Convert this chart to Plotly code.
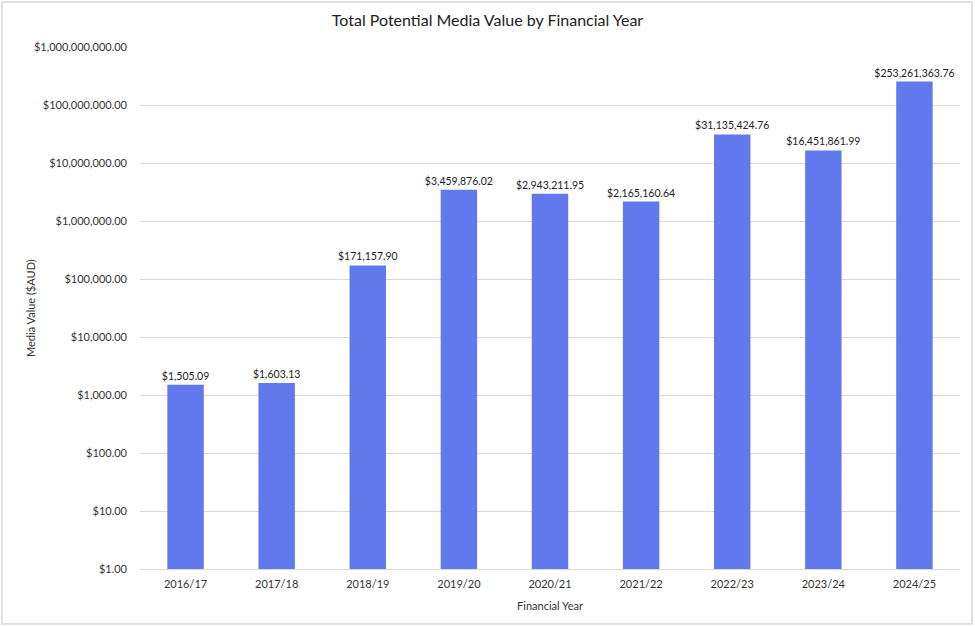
import plotly.graph_objects as go

years = ["2016/17", "2017/18", "2018/19", "2019/20", "2020/21", "2021/22", "2022/23", "2023/24", "2024/25"]
values = [1505.09, 1603.13, 171157.90, 3459876.02, 2943211.95, 2165160.64, 31135424.76, 16451861.99, 253261363.76]
tick_vals = [1, 10, 100, 1000, 10000, 100000, 1000000, 10000000, 100000000, 1000000000]
tick_text = ["$" + f"{v:,.2f}" for v in tick_vals]

FONT = "Lato, Noto Sans, sans-serif"

fig = go.Figure(go.Bar(
    x=years, y=values,
    marker=dict(color="#6279EE", line=dict(width=0)),
    texttemplate="$%{y:,.2f}", textposition="outside",
    constraintext="none",
    textfont=dict(size=10.5, color="#222222", family=FONT),
    cliponaxis=False,
))

fig.update_layout(
    width=975, height=626,
    margin=dict(l=140, r=15, t=47, b=57),
    paper_bgcolor="white", plot_bgcolor="white",
    font=dict(family=FONT, size=11, color="#333333"),
    title=dict(text="Total Potential Media Value by Financial Year", x=0.5, xanchor="center",
               y=0.968, yanchor="middle", font=dict(size=16, color="#222222", family=FONT)),
    bargap=0.6,
    showlegend=False,
    shapes=[dict(type="rect", xref="paper", yref="paper", x0=-138/820, x1=(972-140)/820,
                 y0=-(624-569)/522, y1=(569-2)/522,
                 line=dict(color="#D9D9D9", width=1.5), layer="below")],
    annotations=[dict(text="Media Value ($AUD)", xref="paper", yref="paper",
                      x=(30-140)/820, y=0.5, xanchor="center", yanchor="middle",
                      textangle=-90, showarrow=False,
                      font=dict(size=11, color="#333333", family=FONT))],
)
fig.update_xaxes(
    showgrid=False, showline=True, linecolor="#D9D9D9", linewidth=1,
    ticks="outside", ticklen=5, tickcolor="rgba(0,0,0,0)",
    tickfont=dict(size=11, color="#333333"),
    title=dict(text="Financial Year", font=dict(size=11, color="#333333"), standoff=13),
)
fig.update_yaxes(
    type="log", range=[0, 9], tickvals=tick_vals, ticktext=tick_text,
    showgrid=True, gridcolor="#D9D9D9", gridwidth=1, zeroline=False, showline=False,
    ticks="", ticklabelstandoff=12, tickfont=dict(size=11, color="#333333"),
)

fig.write_html("out.html", config={"displayModeBar": False},
               post_script="document.body.style.margin='0';")
